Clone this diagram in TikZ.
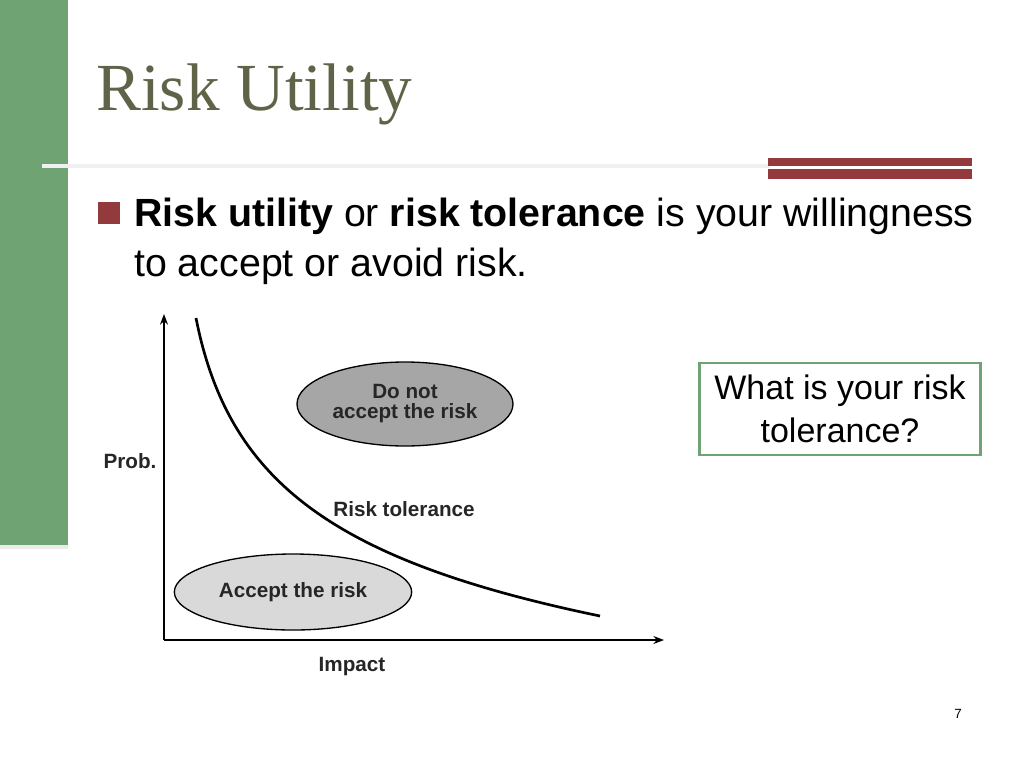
\documentclass[tikz,border=0pt]{standalone}
\usepackage{fontspec}
\setmainfont{Liberation Sans}
\newfontfamily\titlefont{Liberation Serif}
\usetikzlibrary{arrows.meta,shapes.geometric}
\definecolor{gbar}{HTML}{6FA374}
\definecolor{rbar}{HTML}{933A3C}
\definecolor{ttl}{HTML}{5F6448}
\tikzset{lbl/.style={font=\fontsize{15.5}{17}\selectfont\bfseries, text=black!85, align=center},
ax/.style={line width=1pt, -{Stealth[length=8pt,width=6pt]}}}
\begin{document}
\begin{tikzpicture}[x=0.75pt,y=-0.75pt]
\useasboundingbox (0,0) rectangle (1024,768);
\fill[white] (0,0) rectangle (1024,768);
\fill[gbar] (0,0) rectangle (68,545);
\fill[black!8] (0,545) rectangle (68,549);
\fill[black!6] (42,164) rectangle (770,168);
\fill[rbar] (768,158) rectangle (972,166);
\fill[rbar] (768,169) rectangle (972,179);
\node[anchor=base west, font=\titlefont\fontsize{50.5}{58}\selectfont, text=ttl, inner sep=0] (title) at (96,110) {Risk Utility};
\fill[rbar] (98,202) rectangle (120,224);
\node[anchor=north west, inner sep=0, align=left, font=\fontsize{29.5}{37.5}\selectfont] (body) at (134,198)
 {\textbf{Risk utility} or \textbf{risk tolerance} is your willingness\\to accept or avoid risk.};
\coordinate (o) at (164,640);
\coordinate (yt) at (164,314);
\coordinate (xt) at (664,640);
\draw[ax] (o) -- (yt);
\draw[ax] (o) -- (xt);
\node[draw, line width=1pt, fill=black!35!white, ellipse, minimum width=162pt, minimum height=63pt, inner sep=0] (dn) at (405,404) {};
\node[lbl] at (dn) {Do not\\[-2pt]accept the risk};
\node[draw, line width=1pt, fill=black!15!white, ellipse, minimum width=178pt, minimum height=57pt, inner sep=0] (ac) at (293,592) {};
\node[lbl] at (ac) {Accept the risk};
\coordinate (c0) at (196,318);
\coordinate (c1) at (600,616);
\draw[line width=2pt] (c0) .. controls (228,480) and (330,560) .. (c1);
\node[lbl] (rt) at (404,509) {Risk tolerance};
\node[lbl] (pr) at (130,461) {Prob.};
\node[lbl] (im) at (352,667) {Impact};
\node[draw=gbar, line width=2pt, minimum width=211pt, minimum height=69pt, align=center, font=\fontsize{25.5}{32}\selectfont, inner sep=0] (q) at (840,409) {What is your risk\\tolerance?};
\node[font=\fontsize{10}{12}\selectfont] (pg) at (958,714) {7};
\end{tikzpicture}
\end{document}
